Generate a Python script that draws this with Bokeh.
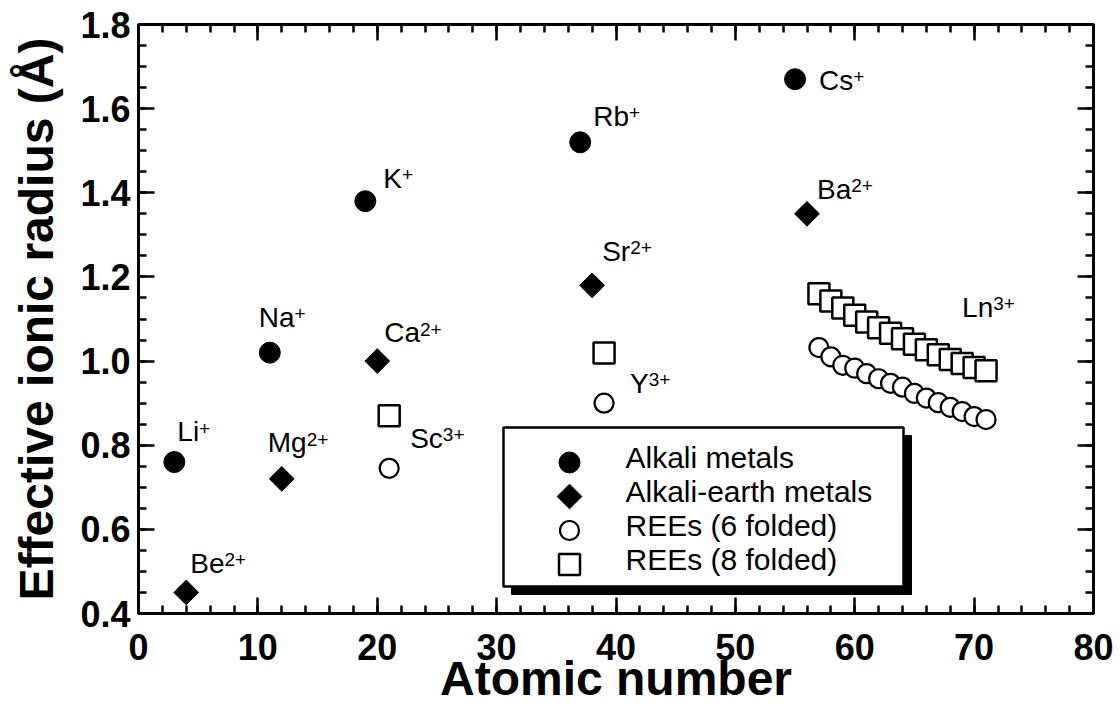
import numpy as np
from bokeh.plotting import figure
from bokeh.models import (Range1d, SingleIntervalTicker, LinearAxis,
                          NumeralTickFormatter, CustomJSTickFormatter,
                          ColumnDataSource)
from bokeh.core.properties import value
from bokeh.embed import file_html
from bokeh.resources import INLINE

# ---------------- data ----------------
alkali_z = [3, 11, 19, 37, 55]
alkali_r = [0.76, 1.02, 1.38, 1.52, 1.67]
alkali_names = ["Li", "Na", "K", "Rb", "Cs"]

earth_z = [4, 12, 20, 38, 56]
earth_r = [0.45, 0.72, 1.00, 1.18, 1.35]
earth_names = ["Be", "Mg", "Ca", "Sr", "Ba"]

ree_z = [21, 39, 57, 58, 59, 60, 61, 62, 63, 64, 65, 66, 67, 68, 69, 70, 71]
ree6_r = [0.745, 0.900, 1.032, 1.010, 0.990, 0.983, 0.970, 0.958, 0.947,
          0.938, 0.923, 0.912, 0.901, 0.890, 0.880, 0.868, 0.861]
ree8_r = [0.870, 1.019, 1.160, 1.143, 1.126, 1.109, 1.093, 1.079, 1.066,
          1.053, 1.040, 1.027, 1.015, 1.004, 0.994, 0.985, 0.977]

legend_labels = ["Alkali metals", "Alkali-earth metals",
                 "REEs (6 folded)", "REEs (8 folded)"]

x_title = "Atomic number"
y_title = "Effective ionic radius (Å)"

# ---------------- layout (pixels) ----------------
FL, FT, FW, FH = 138, 24, 955, 589          # frame position inside figure
XMIN, XMAX, YMIN, YMAX = 0, 80, 0.4, 1.8
PAGE = 0


def X(px):  # page pixel -> data x
    return XMIN + (px - PAGE - FL) * (XMAX - XMIN) / FW


def Y(py):  # page pixel -> data y
    return YMAX - (py - PAGE - FT) * (YMAX - YMIN) / FH


FONT = "Liberation Sans"
BASE_FIX = 0.36   # svg text baseline correction (fraction of font size)

p = figure(frame_width=FW, frame_height=FH, output_backend="svg",
           toolbar_location=None, x_range=Range1d(XMIN, XMAX),
           y_range=Range1d(YMIN, YMAX), x_axis_location=None,
           y_axis_location=None, min_border_left=FL, min_border_top=FT,
           min_border_right=25, min_border_bottom=95)
p.grid.visible = False
p.outline_line_color = "black"
p.outline_line_width = 3
p.background_fill_color = "white"
p.border_fill_color = "white"


def make_axis(ticker, show_labels, fmt=None):
    ax = LinearAxis(ticker=ticker)
    ax.axis_line_width = 3
    ax.major_tick_line_width = 2.5
    ax.minor_tick_line_width = 2.5
    ax.major_tick_in = 16
    ax.major_tick_out = 0
    ax.minor_tick_in = 8
    ax.minor_tick_out = 0
    if show_labels:
        if fmt is not None:
            ax.formatter = fmt
        ax.major_label_text_font = FONT
        ax.major_label_text_font_style = "bold"
        ax.major_label_text_font_size = "36px"
        ax.major_label_text_color = "black"
        ax.axis_label_text_font = FONT
        ax.axis_label_text_font_style = "bold"
        ax.axis_label_text_font_size = "48px"
        ax.axis_label_text_color = "black"
    else:
        ax.formatter = CustomJSTickFormatter(code="return ''")
        ax.major_label_standoff = 0
    return ax


bx = make_axis(SingleIntervalTicker(interval=10, num_minor_ticks=5), True)
bx.major_label_standoff = 20
bx.axis_label = x_title
bx.axis_label_standoff = -11
lx = make_axis(SingleIntervalTicker(interval=0.2, num_minor_ticks=4), True,
               NumeralTickFormatter(format="0.0"))
lx.major_label_standoff = 8
lx.axis_label = y_title
lx.axis_label_standoff = 14
tx = make_axis(SingleIntervalTicker(interval=10, num_minor_ticks=5), False)
rx = make_axis(SingleIntervalTicker(interval=0.2, num_minor_ticks=4), False)
p.add_layout(bx, "below")
p.add_layout(lx, "left")
p.add_layout(tx, "above")
p.add_layout(rx, "right")

# ---------------- data marks ----------------
p.scatter(ree_z, ree8_r, marker="square", size=21, fill_color="white",
          line_color="black", line_width=2.5)
p.scatter(ree_z, ree6_r, marker="circle", size=19, fill_color="white",
          line_color="black", line_width=2.2)
p.scatter(alkali_z, alkali_r, marker="circle", size=21, fill_color="black",
          line_color="black", line_width=1)
p.scatter(earth_z, earth_r, marker="square", angle=np.pi / 4, size=17.5,
          fill_color="black", line_color="black", line_width=1)

# ---------------- element labels ----------------
W = {"L": .556, "i": .222, "N": .722, "a": .556, "K": .667, "R": .722,
     "b": .556, "C": .722, "s": .5, "B": .667, "e": .556, "M": .833,
     "g": .556, "S": .667, "r": .333, "c": .5, "Y": .667, "n": .556}
LBL = 28
SUP = 19

lab_text = alkali_names + earth_names + ["Sc", "Y", "Ln"]
lab_sup = ["+"] * 5 + ["2+"] * 5 + ["3+", "3+", "3+"]
lab_x = alkali_z + earth_z + [ree_z[0], ree_z[1], ree_z[-1]]
lab_y = alkali_r + earth_r + [ree6_r[0], ree6_r[1], ree8_r[-1]]
# pixel offsets of label (left, baseline) from its anchor point
lab_dx = [3, -11, 18, 13, 24, 4, -14, 7, 10, 10, 21, 26, -24]
lab_dy = [-20, -25, -13, -16, 11, -19, -26, -18, -24, -14, -20, -10, -53]

base_dy = [dy - BASE_FIX * LBL for dy in lab_dy]
sup_dx = [dx + sum(W[c] for c in t) * LBL for dx, t in zip(lab_dx, lab_text)]
sup_dy = [dy - 7 - BASE_FIX * SUP for dy in lab_dy]

src = ColumnDataSource(dict(x=lab_x, y=lab_y, t=lab_text, s=lab_sup,
                            dx=lab_dx, dy=base_dy, sdx=sup_dx, sdy=sup_dy))
p.text(x="x", y="y", text="t", x_offset="dx", y_offset="dy", source=src,
       text_font=value(FONT), text_font_size=f"{LBL}px",
       text_align="left", text_baseline="alphabetic", text_color="black")
p.text(x="x", y="y", text="s", x_offset="sdx", y_offset="sdy", source=src,
       text_font=value(FONT), text_font_size=f"{SUP}px",
       text_align="left", text_baseline="alphabetic", text_color="black")

# ---------------- legend (box with drop shadow) ----------------
BL, BT, BR, BB, SH = 503, 427, 903, 586, 8
p.quad(left=[X(BL + SH)], right=[X(BR + SH)], top=[Y(BT + SH)],
       bottom=[Y(BB + SH)], fill_color="black", line_color="black")
p.quad(left=[X(BL)], right=[X(BR)], top=[Y(BT)], bottom=[Y(BB)],
       fill_color="white", line_color="black", line_width=2.5)

rows = [462, 496, 530, 564]
mx = X(569)
p.scatter([mx], [Y(rows[0])], marker="circle", size=21, fill_color="black",
          line_color="black")
p.scatter([mx], [Y(rows[1])], marker="square", angle=np.pi / 4, size=17.5,
          fill_color="black", line_color="black")
p.scatter([mx], [Y(rows[2])], marker="circle", size=19, fill_color="white",
          line_color="black", line_width=2.2)
p.scatter([mx], [Y(rows[3])], marker="square", size=21, fill_color="white",
          line_color="black", line_width=2.5)
LEG = 30
p.text(x=[X(625)] * 4, y=[Y(r + 6 - BASE_FIX * LEG) for r in rows],
       text=legend_labels, text_font=value(FONT),
       text_font_size=f"{LEG}px", text_align="left",
       text_baseline="alphabetic", text_color="black")

open("out.html", "w").write(file_html(p, INLINE))
